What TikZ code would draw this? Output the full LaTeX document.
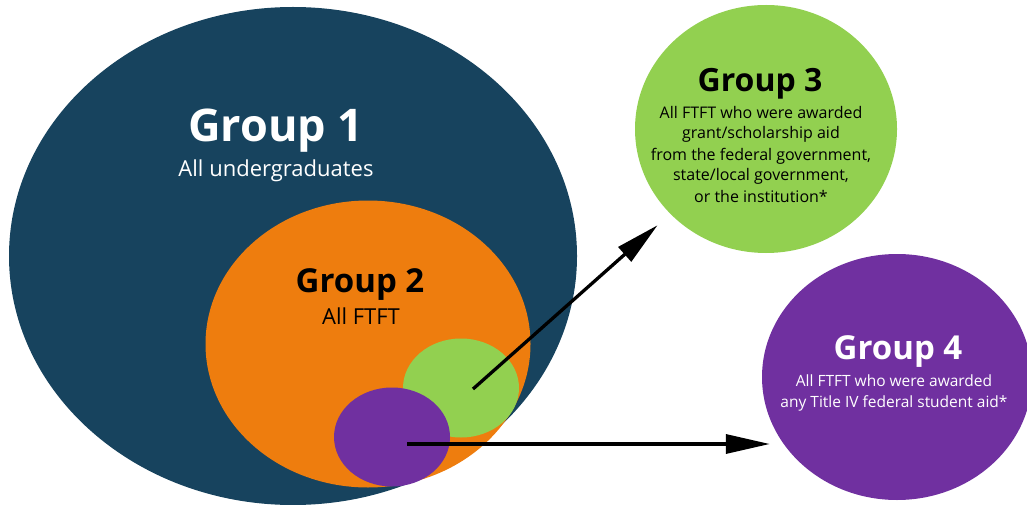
\documentclass[tikz,border=0pt]{standalone}
\usepackage{fontspec}
\setmainfont{Open Sans}
\usetikzlibrary{shapes,arrows.meta,calc,positioning}
\definecolor{navy}{HTML}{17435E}
\definecolor{naranja}{HTML}{EE7D0E}
\definecolor{verde}{HTML}{92D050}
\definecolor{morado}{HTML}{7030A0}
\tikzset{
	every node/.style={
		inner sep=0pt
	},
	groupset/.style={
		shape=ellipse,
		draw=none,
		fill=#1
	},
	grouptitle/.style={
		font=\bfseries\fontsize{#1}{#1}\selectfont,
		anchor=base
	},
	grouptext/.style={
		font=\fontsize{#1}{21}\selectfont,
		align=center,
		anchor=base
	},
	arrow/.style={
		-{Triangle[length=44pt,width=19pt]},
		line width=3.3pt
	}
}

\begin{document}
\begin{tikzpicture}[x=1pt,y=-1pt]
	\useasboundingbox (0,0) rectangle (1027,505);
	
	\node[groupset=navy, minimum width=568pt, minimum height=498pt]    (g1)  at (293,256) {};
	\node[groupset=naranja, minimum width=325pt, minimum height=287pt] (g2)  at (368,344) {};
	\node[groupset=verde, minimum width=116pt, minimum height=99pt]    (g3a) at (461,388) {};
	\node[groupset=morado, minimum width=116pt, minimum height=99pt]   (g4a) at (392,437) {};
	\node[groupset=verde, minimum width=262pt, minimum height=248pt]   (g3)  at (766,129) {};
	\node[groupset=morado, minimum width=270pt, minimum height=246pt]  (g4)  at (897,377) {};
	
	\node[grouptitle=45, text=white] (g1t) at (276,142) {Group 1};
	\node[grouptext=22, text=white]  (g1s) at (276,177) {All undergraduates};
	\node[grouptitle=33]             (g2t) at (360,292) {Group 2};
	\node[grouptext=22]              (g2s) at (361,324) {All FTFT};
	\node[grouptitle=32]             (g3t) at (760,92)  {Group 3};
	\node[grouptext=16]              (g3s) at (761,202) {All FTFT who were awarded\\grant/scholarship aid\\from the federal government,\\state/local government,\\or the institution*};
	\node[grouptitle=33, text=white] (g4t) at (898,359) {Group 4};
	\node[grouptext=15.5, text=white] (g4s) at (894,407) {All FTFT who were awarded\\any Title IV federal student aid*};
	
	\coordinate (a3) at (473,389);
	\coordinate (a4) at (407,444);
	\draw[arrow, shorten >=17pt] (a3) -- (g3);
	\draw[arrow, shorten >=13pt] (a4) -- (a4 -| g4.210);
\end{tikzpicture}
\end{document}
